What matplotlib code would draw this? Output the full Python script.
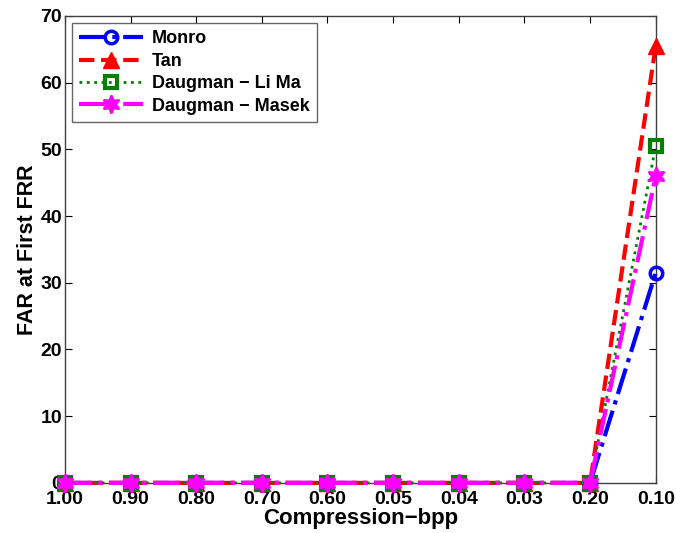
import numpy as np
import matplotlib.pyplot as plt

plt.rcParams['font.family'] = ['Liberation Sans', 'DejaVu Sans']
plt.rcParams['font.weight'] = 'bold'

bpp_labels = ['1.00', '0.90', '0.80', '0.70', '0.60', '0.05', '0.04', '0.03', '0.20', '0.10']
monro = [0, 0, 0, 0, 0, 0, 0, 0, 0, 31.5]
tan = [0, 0, 0, 0, 0, 0, 0, 0, 0, 65.5]
daugman_lima = [0, 0, 0, 0, 0, 0, 0, 0, 0, 50.5]
daugman_masek = [0, 0, 0, 0, 0, 0, 0, 0, 0, 46.0]

x = np.arange(1, len(bpp_labels) + 1)

fig = plt.figure(figsize=(6.76, 5.33), dpi=100)
ax = fig.add_axes([0.096, 0.094, 0.874, 0.876])

ax.plot(x, monro, color='blue', linestyle='-.', linewidth=3, marker='o',
        markersize=9, markerfacecolor='none', markeredgewidth=2.5,
        label='Monro', clip_on=False, zorder=3)
ax.plot(x, tan, color='red', linestyle='--', linewidth=3, marker='^',
        markersize=11, markerfacecolor='red', label='Tan', clip_on=False, zorder=3)
ax.plot(x, daugman_lima, color='green', linestyle=':', linewidth=2, marker='s',
        markersize=8, markerfacecolor='none', markeredgewidth=3,
        label='Daugman \u2212 Li Ma', clip_on=False, zorder=3)
ax.plot(x, daugman_masek, color='magenta', linestyle='-.', linewidth=3, marker=(6, 1, 0),
        markersize=13, markerfacecolor='magenta', markeredgewidth=1.5,
        label='Daugman \u2212 Masek', clip_on=False, zorder=3)

ax.set_xlim(1, 10)
ax.set_ylim(0, 70)
ax.set_xticks(x)
ax.set_xticklabels(bpp_labels)
ax.set_yticks(np.arange(0, 71, 10))
ax.tick_params(direction='in', top=True, right=True, labelsize=14, length=5)
ax.tick_params(axis='x', pad=6)
ax.tick_params(axis='y', pad=2)
for sp in ax.spines.values():
    sp.set_color('#404040')
    sp.set_linewidth(1)

ax.set_xlabel('Compression\u2212bpp', fontsize=16, fontweight='bold', labelpad=0)
ax.set_ylabel('FAR at First FRR', fontsize=15.5, fontweight='bold', labelpad=2)

leg = ax.legend(loc='upper left', fontsize=13, frameon=True, fancybox=False,
                edgecolor='#404040', handlelength=3.5, borderaxespad=0.4,
                labelspacing=0.3, handletextpad=0.5, borderpad=0.4)
leg.get_frame().set_linewidth(1)

fig.savefig('out.png', dpi=100)
